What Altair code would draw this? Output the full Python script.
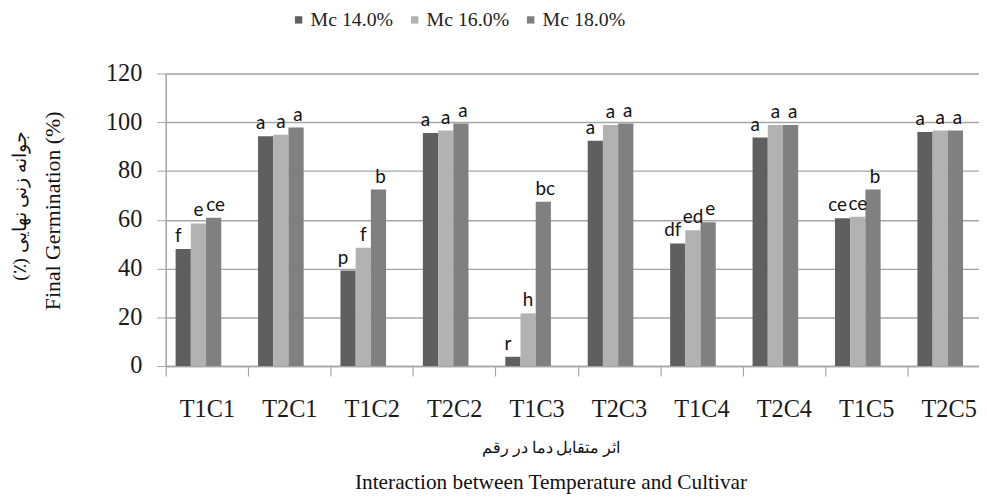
import altair as alt
import pandas as pd

categories = ["T1C1", "T2C1", "T1C2", "T2C2", "T1C3", "T2C3", "T1C4", "T2C4", "T1C5", "T2C5"]
series = ["Mc 14.0%", "Mc 16.0%", "Mc 18.0%"]
mc14 = [48.0, 94.3, 39.2, 95.6, 3.8, 92.4, 50.3, 93.7, 60.6, 96.0]
mc16 = [58.5, 94.9, 48.5, 96.6, 21.6, 98.9, 55.7, 98.9, 61.2, 96.6]
mc18 = [60.8, 97.8, 72.4, 99.5, 67.4, 99.5, 59.0, 98.9, 72.4, 96.6]
letters14 = ["f", "a", "p", "a", "r", "a", "df", "a", "ce", "a"]
letters16 = ["e", "a", "f", "a", "h", "a", "ed", "a", "ce", "a"]
letters18 = ["ce", "a", "b", "a", "bc", "a", "e", "a", "b", "a"]
colors = ["#5f5f5f", "#b2b2b2", "#808080"]
y_ticks = [0, 20, 40, 60, 80, 100, 120]

rows = []
for i, c in enumerate(categories):
    for s, vals, labs in zip(series, [mc14, mc16, mc18], [letters14, letters16, letters18]):
        rows.append({"cat": c, "series": s, "value": vals[i], "letter": labs[i]})
df = pd.DataFrame(rows)

SERIF = "Liberation Serif"
GRID = "#a6a6a6"
RLM = "\u200f"

x = alt.X(
    "cat:N", sort=categories,
    scale=alt.Scale(paddingInner=0, paddingOuter=0),
    axis=alt.Axis(title=None, labelAngle=0, tickBand="extent", ticks=True, tickSize=10,
                  labelPadding=22, labelFont=SERIF, labelFontSize=24.5, labelColor="#1a1a1a",
                  domainColor=GRID, domainWidth=1.5, tickColor=GRID, tickWidth=1.2, grid=False),
)
xo = alt.XOffset("series:N", sort=series,
                 scale=alt.Scale(range=[10, 56], paddingInner=0, paddingOuter=0))
y_scale = alt.Scale(domain=[0, 120])
y_main = alt.Y(
    "value:Q", scale=y_scale,
    axis=alt.Axis(values=y_ticks, title="Final Germination (%)",
                  titleFont=SERIF, titleFontSize=22, titleFontWeight="normal", titleColor="#111",
                  titleX=-114, titleY=138, titleAngle=270, titleAlign="center", titleBaseline="middle",
                  labelFont=SERIF, labelFontSize=24.5, labelColor="#1a1a1a", labelPadding=15,
                  tickSize=9, tickColor=GRID, domainColor=GRID, domainWidth=1.5,
                  gridColor=GRID, gridWidth=1.4),
)
y_persian = alt.Y(
    "value:Q", scale=y_scale,
    axis=alt.Axis(orient="left", title="جوانه زنی نهایی (٪)" + RLM, labels=False, ticks=False,
                  domain=False, grid=False,
                  titleFont=SERIF, titleFontSize=19, titleFontWeight="normal", titleColor="#111",
                  titleX=-147, titleY=133, titleAngle=270, titleAlign="center", titleBaseline="middle"),
)
y_plain = alt.Y("value:Q", scale=y_scale, axis=None)

bars = alt.Chart(df).mark_bar().encode(
    x=x, xOffset=xo, y=y_main,
    color=alt.Color("series:N", sort=series, scale=alt.Scale(domain=series, range=colors),
                    legend=alt.Legend(title=None, orient="none", legendX=124, legendY=-64,
                                      direction="horizontal", symbolType="square", symbolSize=55,
                                      symbolStrokeWidth=0, labelFont=SERIF, labelFontSize=20,
                                      labelColor="#222", columnPadding=11, labelOffset=2)),
)


def letter_layer(name, shift, yenc):
    return alt.Chart(df).transform_filter(alt.datum.series == name).mark_text(
        baseline="bottom", dy=-3, dx=shift, font="Lato", fontSize=19, color="#111"
    ).encode(x=x, xOffset=xo, y=yenc, text="letter:N")


t1 = letter_layer(series[0], -5, y_persian)
t2 = letter_layer(series[1], 0, y_plain)
t3 = letter_layer(series[2], 2, y_plain)

# the plot area runs past the right edge of the picture, as in the reference
chart = alt.layer(bars, t1, t2, t3).resolve_axis(y="independent").properties(
    width=831, height=295,
    autosize=alt.AutoSizeParams(type="none"),
    padding={"left": 159, "top": 64, "right": -11, "bottom": 128},
    title=alt.TitleParams(
        text="اثر متقابل دما در رقم",
        subtitle="Interaction between Temperature and Cultivar",
        orient="bottom", anchor="middle", frame="group", dx=-27,
        font=SERIF, fontSize=16, fontWeight="normal", color="#111",
        subtitleFont=SERIF, subtitleFontSize=21.5, subtitleColor="#111",
        offset=19, subtitlePadding=16,
    ),
).configure_view(stroke=None).configure(background="white")

chart.save("out.html", embed_options={"renderer": "svg", "actions": False})
